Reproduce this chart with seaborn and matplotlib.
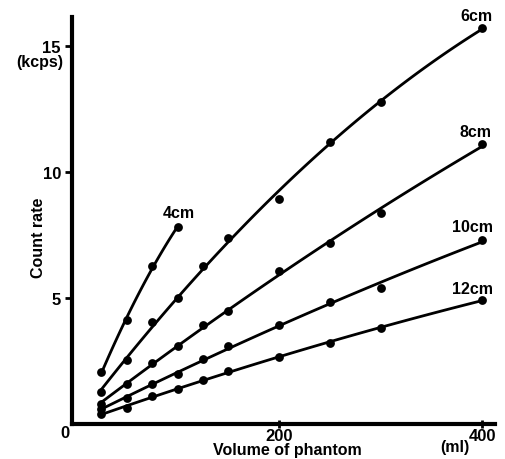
import numpy as np
import matplotlib
matplotlib.use("Agg")
import matplotlib.pyplot as plt
import seaborn as sns

# values
volumes = [25, 50, 75, 100, 125, 150, 200, 250, 300, 400]
volumes_4cm = [25, 50, 75, 100]
rate_4cm = [2.06, 4.13, 6.27, 7.8]
rate_6cm = [1.27, 2.54, 4.05, 5.0, 6.25, 7.38, 8.93, 11.19, 12.78, 15.7]
rate_8cm = [0.79, 1.59, 2.42, 3.1, 3.92, 4.48, 6.07, 7.18, 8.37, 11.1]
rate_10cm = [0.6, 1.03, 1.59, 1.98, 2.58, 3.08, 3.93, 4.84, 5.4, 7.3]
rate_12cm = [0.4, 0.63, 1.11, 1.39, 1.75, 2.12, 2.66, 3.21, 3.81, 4.92]
depth_labels = ["4cm", "6cm", "8cm", "10cm", "12cm"]

series = [
    (volumes_4cm, rate_4cm),
    (volumes, rate_6cm),
    (volumes, rate_8cm),
    (volumes, rate_10cm),
    (volumes, rate_12cm),
]
# label offsets (points) from the last point of each curve
label_offsets = [(1, 11), (-4, 9.5), (-4.5, 9), (-6.5, 9.5), (-7, 8)]

sns.set_style("ticks")
plt.rcParams["font.family"] = ["Liberation Sans", "DejaVu Sans"]
plt.rcParams["font.weight"] = "bold"
plt.rcParams["text.color"] = "black"
plt.rcParams["axes.edgecolor"] = "black"
plt.rcParams["axes.labelcolor"] = "black"
plt.rcParams["xtick.color"] = "black"
plt.rcParams["ytick.color"] = "black"

fig = plt.figure(figsize=(5.05, 4.6), dpi=100)
ax = fig.add_axes([0.1426, 0.076, 0.838, 0.885])

for (xs, ys), lab, off in zip(series, depth_labels, label_offsets):
    sns.regplot(x=np.array(xs), y=np.array(ys), order=2, ci=None, ax=ax,
                color="black", truncate=True,
                scatter_kws={"s": 40, "linewidths": 0, "alpha": 1},
                line_kws={"linewidth": 2.0})
    ax.annotate(lab, xy=(xs[-1], ys[-1]), xytext=off, textcoords="offset points",
                ha="center", va="center", fontsize=11.5, fontweight="bold")

ax.set_xlim(-4, 413)
ax.set_ylim(0, 16.15)

sns.despine(ax=ax)
for side in ["left", "bottom"]:
    ax.spines[side].set_linewidth(3)

ax.set_xticks([200, 400])
ax.set_xticklabels(["200", "400"], fontsize=12, fontweight="bold")
ax.set_yticks([5, 10, 15])
ax.set_yticklabels(["5", "10", "15"], fontsize=12, fontweight="bold")
ax.tick_params(axis="y", direction="out", length=5, width=2, pad=3)
ax.tick_params(axis="x", direction="inout", length=6, width=2, pad=0)

ax.annotate("0", xy=(0, 0), xycoords="axes fraction", xytext=(-5, -6),
            textcoords="offset points", ha="center", va="center",
            fontsize=12, fontweight="bold")
ax.annotate("(kcps)", xy=(0, 15), xycoords=("axes fraction", "data"),
            xytext=(-6, -11), textcoords="offset points", ha="right", va="center",
            fontsize=11.5, fontweight="bold")

ax.set_ylabel("Count rate", fontsize=11.5, fontweight="bold", va="center")
ax.yaxis.set_label_coords(-0.08, 0.46)
ax.set_xlabel("Volume of phantom", fontsize=11.5, fontweight="bold", va="center")
ax.xaxis.set_label_coords(0.508, -0.063)
ax.text(0.905, -0.056, "(ml)", transform=ax.transAxes, ha="center", va="center",
        fontsize=11.5, fontweight="bold")

fig.savefig("out.png", dpi=100)
